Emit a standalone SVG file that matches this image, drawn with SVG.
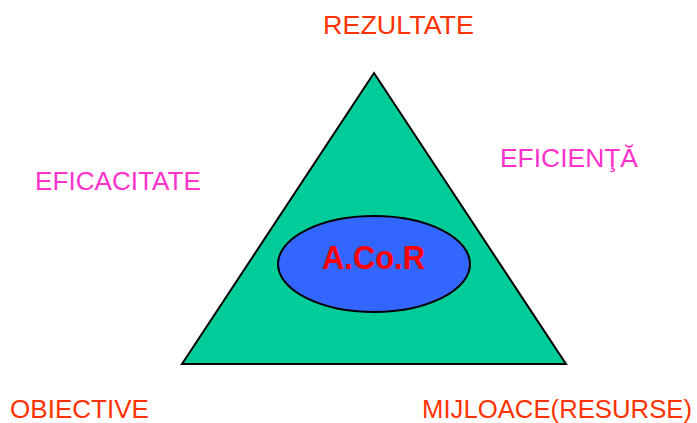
<svg xmlns="http://www.w3.org/2000/svg" width="697" height="423" viewBox="0 0 697 423">
<style>
.lbl{font-family:"Liberation Sans",Arial,sans-serif;font-size:25px}
.or{fill:#FF3300}
.mg{fill:#FF33CC}
.ctr{font-family:"Liberation Sans",Arial,sans-serif;font-size:33px;font-weight:bold;fill:#FF0000}
</style>
<rect width="697" height="423" fill="#FFFFFF"/>
<g id="triangle">
<polygon points="374,73 182,364 566,364" fill="#00CC99" stroke="#000000" stroke-width="2" stroke-linejoin="miter"/>
</g>
<g id="acor">
<ellipse cx="374" cy="264" rx="96" ry="48" fill="#3366FF" stroke="#000000" stroke-width="2"/>
<text class="ctr" x="373.5" y="269" text-anchor="middle" textLength="103" lengthAdjust="spacingAndGlyphs">A.Co.R</text>
</g>
<g id="rezultate"><text class="lbl or" x="323" y="34" textLength="151" lengthAdjust="spacingAndGlyphs">REZULTATE</text></g>
<g id="obiective"><text class="lbl or" x="10" y="418" textLength="139" lengthAdjust="spacingAndGlyphs">OBIECTIVE</text></g>
<g id="mijloace"><text class="lbl or" x="422" y="418" textLength="270" lengthAdjust="spacingAndGlyphs">MIJLOACE(RESURSE)</text></g>
<g id="eficacitate"><text class="lbl mg" x="35" y="190" textLength="166" lengthAdjust="spacingAndGlyphs">EFICACITATE</text></g>
<g id="eficienta"><text class="lbl mg" x="500" y="167" textLength="138" lengthAdjust="spacingAndGlyphs">EFICIENŢĂ</text></g>
<g id="connectors"></g>
</svg>
